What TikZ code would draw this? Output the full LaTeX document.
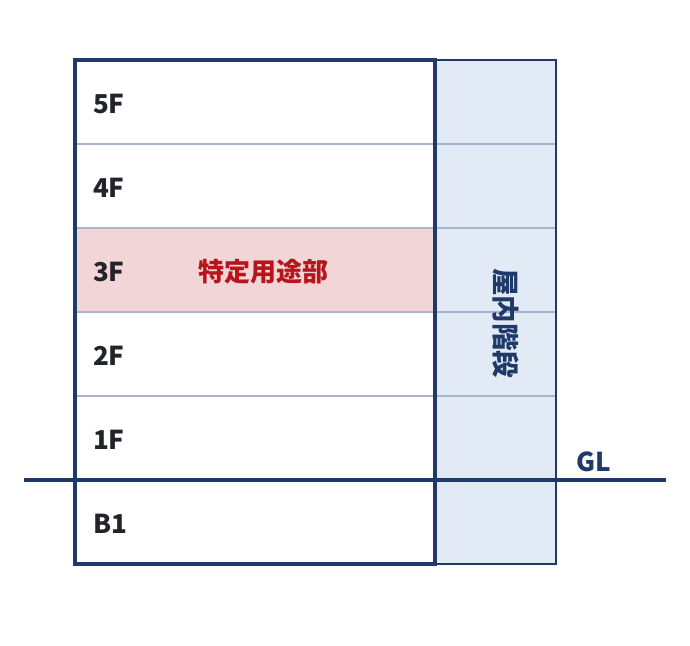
\documentclass[tikz,border=0pt]{standalone}
\usepackage{fontspec}
\setmainfont{Noto Sans CJK JP}
\definecolor{navy}{HTML}{1F3A68}
\definecolor{divider}{HTML}{A9B5CF}
\definecolor{pinkfill}{HTML}{F2D5D7}
\definecolor{stairfill}{HTML}{E2EAF6}
\definecolor{redtxt}{HTML}{B8141C}
\definecolor{darktxt}{HTML}{23242A}
\begin{document}
\begin{tikzpicture}[x=1pt,y=-1pt,
  floorbox/.style={rectangle, inner sep=0pt, minimum width=360pt, minimum height=84pt},
  stairbox/.style={rectangle, inner sep=0pt, minimum width=121pt, minimum height=504pt, fill=stairfill},
  flbl/.style={anchor=west, font=\bfseries\fontsize{26}{26}\selectfont, text=darktxt, inner sep=0pt},
  divline/.style={draw=divider, line width=2pt},
  outline/.style={draw=navy, line width=3.5pt},
  glline/.style={draw=navy, line width=4pt}]
\useasboundingbox (0,0) rectangle (690,645);
% stair
\node[stairbox] (stair) at (495.5,312) {};
% floors
\node[floorbox] (f5) at (255,102) {};
\node[floorbox] (f4) at (255,186) {};
\node[floorbox, fill=pinkfill] (f3) at (255,270) {};
\node[floorbox] (f2) at (255,354) {};
\node[floorbox] (f1) at (255,438) {};
\node[floorbox] (b1) at (255,522) {};
% dividers
\foreach \a/\b in {f5/f4,f4/f3,f3/f2,f2/f1}{
  \draw[divline] (\a.south west) -- (\a.south west -| stair.east);
}
% outlines
\draw[draw=navy, line width=2pt] (stair.north west) rectangle (stair.south east);
\draw[outline] (f5.north west) rectangle (b1.south east);
% GL
\coordinate (glL) at (24,480);
\coordinate (glR) at (666,480);
\draw[glline] (glL) -- (glR);
% labels
\node[flbl] (l5) at ([xshift=18pt,yshift=-2pt]f5.west) {5F};
\node[flbl] (l4) at ([xshift=18pt,yshift=-2pt]f4.west) {4F};
\node[flbl] (l3) at ([xshift=18pt,yshift=-2pt]f3.west) {3F};
\node[flbl] (l2) at ([xshift=18pt,yshift=-2pt]f2.west) {2F};
\node[flbl] (l1) at ([xshift=18pt,yshift=-2pt]f1.west) {1F};
\node[flbl] (lb) at ([xshift=18pt,yshift=-2pt]b1.west) {B1};
\node[font=\bfseries\fontsize{26}{26}\selectfont, text=redtxt, inner sep=0pt] (tok) at (263,272) {特定用途部};
\node[font=\bfseries\fontsize{27.5}{27.5}\selectfont, text=navy, inner sep=0pt, rotate=-90] (kaidan) at (506,323) {屋内階段};
\node[font=\bfseries\fontsize{26}{26}\selectfont, text=navy, inner sep=0pt, anchor=west] (gl) at (576,462) {GL};
\end{tikzpicture}
\end{document}
